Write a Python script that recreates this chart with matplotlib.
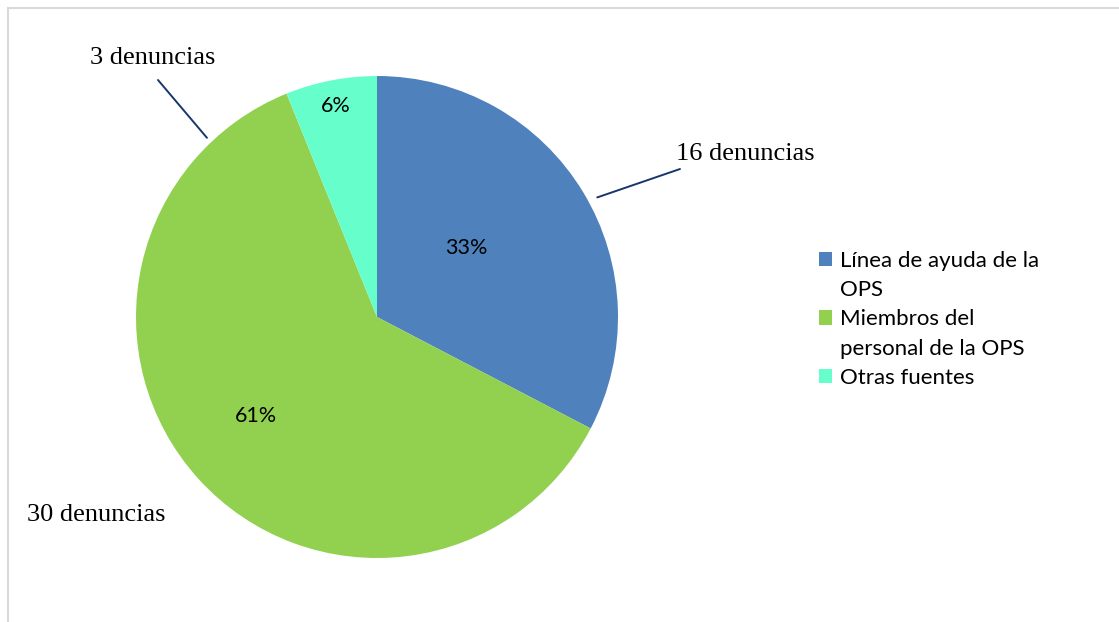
import numpy as np
import matplotlib
matplotlib.use("Agg")
import matplotlib.pyplot as plt
from matplotlib.lines import Line2D
from matplotlib.patches import Patch

# data
categorias = ["Línea de ayuda de la\nOPS", "Miembros del\npersonal de la OPS", "Otras fuentes"]
denuncias = [16, 30, 3]
colores = ["#4F81BD", "#92D050", "#66FFCC"]
etiquetas = ["16 denuncias", "30 denuncias", "3 denuncias"]

W, H = 1119, 622
fig = plt.figure(figsize=(W / 100, H / 100), dpi=100)

# light frame (top and left edges only visible)
fig.add_artist(Line2D([8 / W, 1], [1 - 8 / H, 1 - 8 / H], color="#d9d9d9", lw=1.5))
fig.add_artist(Line2D([8 / W, 8 / W], [0, 1 - 8 / H], color="#d9d9d9", lw=1.5))

cx, cy, r = 377, 317, 241
ax = fig.add_axes([(cx - r) / W, (H - cy - r) / H, 2 * r / W, 2 * r / H])
wedges, _ = ax.pie(denuncias, colors=colores, startangle=90, counterclock=False,
                   radius=1, wedgeprops=dict(linewidth=0))
ax.set_xlim(-1, 1)
ax.set_ylim(-1, 1)
ax.set_aspect("equal")
ax.axis("off")

# percent labels (Excel best fit: distance / angle shift per slice)
total = sum(denuncias)
pct_dist = [0.47, 0.65, 0.89]
pct_shift = [6.5, -3, 0]
for w, v, d, s in zip(wedges, denuncias, pct_dist, pct_shift):
    ang = np.deg2rad((w.theta1 + w.theta2) / 2 + s)
    ax.text(d * np.cos(ang), d * np.sin(ang), "%d%%" % round(100 * v / total),
            ha="center", va="center", fontsize=15.5, family="Lato", color="black")

# data labels with leader lines
def edge(deg, rr=1.04):
    a = np.deg2rad(deg)
    return rr * np.cos(a), rr * np.sin(a)

tfont = dict(family="Liberation Serif", fontsize=19, color="black")
lk = dict(arrowstyle="-", color="#17366e", lw=1.4, shrinkA=0, shrinkB=0)

ax.annotate("", xy=edge(28.5), xytext=(680, H - 169), textcoords="figure pixels", arrowprops=lk)
fig.text(676 / W, 1 - 154 / H, etiquetas[0], ha="left", va="center", **tfont)

ax.annotate("", xy=edge(133.5, 1.025), xytext=(158, H - 80), textcoords="figure pixels", arrowprops=lk)
fig.text(90 / W, 1 - 58 / H, etiquetas[2], ha="left", va="center", **tfont)

fig.text(27 / W, 1 - 515 / H, etiquetas[1], ha="left", va="center", **tfont)

# legend: square sits on the first line of each wrapped label, like Excel
handles, labels = [], []
for w, cat in zip(wedges, categorias):
    lines = cat.split("\n")
    handles.append(w)
    labels.append(lines[0])
    for extra in lines[1:]:
        handles.append(Patch(facecolor="none", edgecolor="none"))
        labels.append(extra)

leg = fig.legend(handles, labels, loc="upper left", bbox_to_anchor=(812 / W, 1 - 244 / H),
                 frameon=False, prop=dict(family="Lato", size=16), handlelength=0.6,
                 handleheight=0.6, handletextpad=0.35, labelspacing=0.42,
                 borderaxespad=0, borderpad=0.3)

fig.savefig("out.png", dpi=100, facecolor="white")
